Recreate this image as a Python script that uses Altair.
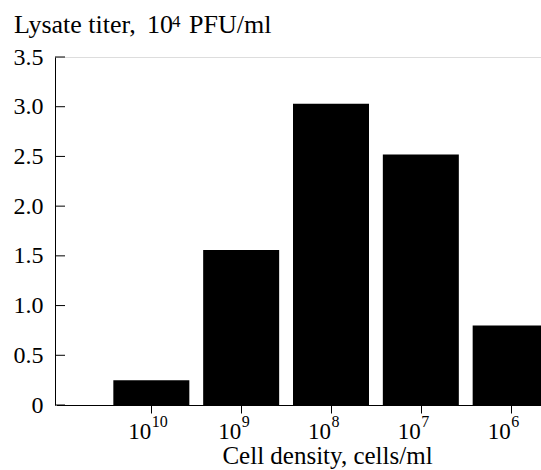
import altair as alt
import pandas as pd

# data
exponents = [10, 9, 8, 7, 6]
tick_base = ["10", "10", "10", "10", "10"]
tick_sup = ["10", "9", "8", "7", "6"]
titers = [0.25, 1.56, 3.03, 2.52, 0.80]
y_ticks = [0, 0.5, 1.0, 1.5, 2.0, 2.5, 3.0, 3.5]
y_title_parts = ["Lysate titer,", "10", "4", "PFU/ml"]
x_title = "Cell density, cells/ml"

df = pd.DataFrame({"exp": exponents, "titer": titers,
                   "base": tick_base, "sup": tick_sup})
ticks_df = pd.DataFrame({"v": y_ticks})

FONT = "Liberation Serif"
FS = 24      # y tick labels
TTL = 26     # y title
XTL = 25     # x title
TFS = 23     # x tick label base
SFS = 16     # superscripts
H = 348

x_scale = alt.Scale(domain=[11, 5], range=[1.5, 550.5], nice=False, zero=False)
y_scale = alt.Scale(domain=[0, 3.5], nice=False)

base = alt.Chart(df)

bars = base.mark_bar(width=76, color="black", clip=True).encode(
    x=alt.X("exp:Q", scale=x_scale,
            axis=alt.Axis(values=exponents, labels=False, grid=False,
                          tickSize=8, tickColor="black", domainColor="black",
                          title=x_title, titleFont=FONT, titleFontSize=XTL,
                          titleFontWeight="normal", titleColor="black",
                          titleX=272, titleY=58.5, titleBaseline="alphabetic",
                          titleAnchor="start", titleAlign="center")),
    y=alt.Y("titer:Q", scale=y_scale,
            axis=alt.Axis(values=y_ticks, grid=False, ticks=False, tickSize=0,
                          domainColor="black",
                          labelExpr="datum.value == 0 ? '0' : format(datum.value, '.1f')",
                          labelFont=FONT, labelFontSize=FS, labelColor="black",
                          labelPadding=12, title=None)),
)

yticks = alt.Chart(ticks_df).mark_rule(color="black", strokeWidth=1).encode(
    y=alt.Y("v:Q", scale=y_scale),
    x=alt.value(0),
    x2=alt.value(10),
)

lab_base = base.mark_text(font=FONT, fontSize=TFS, align="right",
                          baseline="alphabetic", color="black").encode(
    x=alt.X("exp:Q", scale=x_scale), y=alt.value(H + 34), text="base:N")
lab_sup = base.mark_text(font=FONT, fontSize=SFS, align="left",
                         baseline="alphabetic", color="black", dx=0.5).encode(
    x=alt.X("exp:Q", scale=x_scale), y=alt.value(H + 22), text="sup:N")

tdf = pd.DataFrame({"t": y_title_parts})
def title_piece(i, x, y, size):
    return alt.Chart(tdf).transform_filter(
        alt.datum.t == y_title_parts[i]
    ).mark_text(font=FONT, fontSize=size, align="left", baseline="alphabetic",
                color="black").encode(x=alt.value(x), y=alt.value(y), text="t:N")

t1 = title_piece(0, -41, -24, TTL)
t2 = title_piece(1, 92, -24, TTL)
t3 = title_piece(2, 117, -30.5, SFS + 1)
t4 = title_piece(3, 134, -24, TTL)

chart = alt.layer(bars, yticks, lab_base, lab_sup, t1, t2, t3, t4).properties(
    width=486, height=H,
    autosize=alt.AutoSizeParams(type="none"),
    padding={"left": 55, "top": 57, "right": 0, "bottom": 65},
).configure_view(stroke=None).configure(background="white")

chart.save("out.html", embed_options={"renderer": "svg", "actions": False})
